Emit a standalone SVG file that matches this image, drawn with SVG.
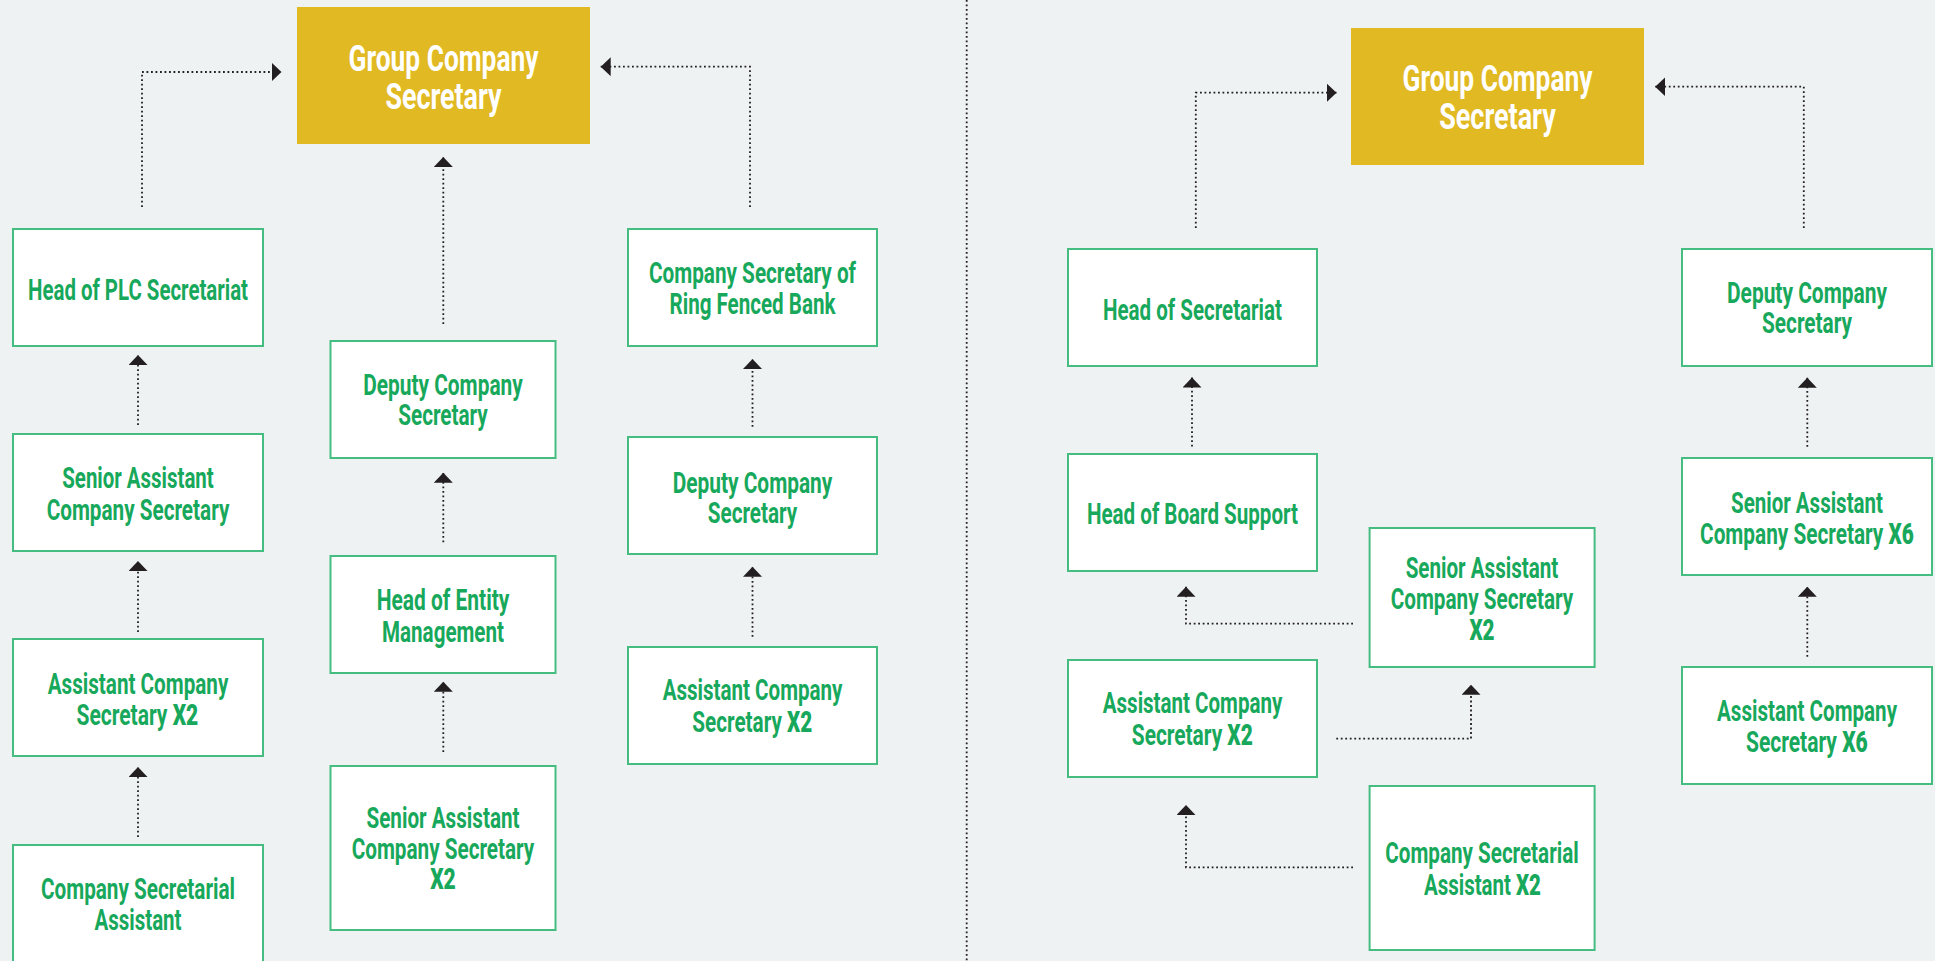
<svg xmlns="http://www.w3.org/2000/svg" width="1935" height="961" viewBox="0 0 1935 961">
<style>
.bg{fill:#eff2f3}
.box{fill:#ffffff;stroke:#45bc80;stroke-width:2}
.gold{fill:#e1b923}
.t{font-family:Roboto,"Liberation Sans",sans-serif;font-size:29px;fill:#17a85b;font-weight:700;text-anchor:middle}
.b{font-weight:900}
.title{font-family:Roboto,"Liberation Sans",sans-serif;font-size:36px;fill:#ffffff;font-weight:700;text-anchor:middle}
.dot{fill:none;stroke:#231f20;stroke-width:1.8;stroke-dasharray:1.8 2.7}
.con{fill:none;stroke:#231f20;stroke-width:1.8;stroke-dasharray:1.8 2.7;marker-end:url(#arr)}
</style>
<defs>
<marker id="arr" markerUnits="userSpaceOnUse" markerWidth="11" markerHeight="20" refX="10" refY="9.5" orient="auto" viewBox="0 0 11 20">
<path d="M0,0 L10,9.5 L0,19 Z" fill="#231f20"/>
</marker>
</defs>
<rect class="bg" x="0" y="0" width="1935" height="961"/>

<g id="connectors">
<path class="dot" d="M966.7,0 V961"/>
<path class="con" d="M142,207 V72 H281.5"/>
<path class="con" d="M443.3,324 V157"/>
<path class="con" d="M750,207 V66.7 H600.7"/>
<path class="con" d="M138,425 V355"/>
<path class="con" d="M138,632 V561"/>
<path class="con" d="M138,837 V767"/>
<path class="con" d="M443.3,542.3 V472.7"/>
<path class="con" d="M443.3,752 V681.7"/>
<path class="con" d="M752.5,426.7 V359"/>
<path class="con" d="M752.5,636.7 V566.7"/>
<path class="con" d="M1195.8,228 V92.7 H1336.5"/>
<path class="con" d="M1803.8,228 V86.7 H1655.2"/>
<path class="con" d="M1192,446.6 V377.5"/>
<path class="con" d="M1353,623.7 H1186 V586.7"/>
<path class="con" d="M1336.3,738.7 H1471 V684.7"/>
<path class="con" d="M1353,867.3 H1186 V805"/>
<path class="con" d="M1807.3,446.7 V377.7"/>
<path class="con" d="M1807.3,656.7 V586.7"/>
</g>

<g id="gold1">
<rect class="gold" x="297" y="7" width="293" height="137"/>
<text class="title" x="443.5" y="71" textLength="190" lengthAdjust="spacingAndGlyphs">Group Company</text>
<text class="title" x="443.5" y="109" textLength="116" lengthAdjust="spacingAndGlyphs">Secretary</text>
</g>

<g id="plc">
<rect class="box" x="13" y="229" width="250" height="117"/>
<text class="t" x="138" y="300" textLength="220" lengthAdjust="spacingAndGlyphs">Head of PLC Secretariat</text>
</g>

<g id="senior1">
<rect class="box" x="13" y="434" width="250" height="117"/>
<text class="t" x="138" y="488.3" textLength="151.5" lengthAdjust="spacingAndGlyphs">Senior Assistant</text>
<text class="t" x="138" y="520" textLength="182.7" lengthAdjust="spacingAndGlyphs">Company Secretary</text>
</g>

<g id="asst1">
<rect class="box" x="13" y="639" width="250" height="117"/>
<text class="t" x="138" y="694" textLength="180.6" lengthAdjust="spacingAndGlyphs">Assistant Company</text>
<text class="t" x="137.4" y="725" textLength="121.7" lengthAdjust="spacingAndGlyphs">Secretary <tspan class="b">X2</tspan></text>
</g>

<g id="csa1">
<rect class="box" x="13" y="845" width="250" height="117"/>
<text class="t" x="138" y="899" textLength="194" lengthAdjust="spacingAndGlyphs">Company Secretarial</text>
<text class="t" x="138" y="930" textLength="87" lengthAdjust="spacingAndGlyphs">Assistant</text>
</g>

<g id="deputy1">
<rect class="box" x="330.5" y="341" width="225" height="117"/>
<text class="t" x="443" y="395" textLength="159.5" lengthAdjust="spacingAndGlyphs">Deputy Company</text>
<text class="t" x="443" y="425" textLength="89.6" lengthAdjust="spacingAndGlyphs">Secretary</text>
</g>

<g id="entity">
<rect class="box" x="330.5" y="556" width="225" height="117"/>
<text class="t" x="443" y="610" textLength="132.7" lengthAdjust="spacingAndGlyphs">Head of Entity</text>
<text class="t" x="443" y="641.7" textLength="122" lengthAdjust="spacingAndGlyphs">Management</text>
</g>

<g id="senior2">
<rect class="box" x="330.5" y="766" width="225" height="164"/>
<text class="t" x="443" y="827.7" textLength="153" lengthAdjust="spacingAndGlyphs">Senior Assistant</text>
<text class="t" x="443" y="859" textLength="182.6" lengthAdjust="spacingAndGlyphs">Company Secretary</text>
<text class="t b" x="443" y="889" textLength="25.6" lengthAdjust="spacingAndGlyphs">X2</text>
</g>

<g id="ringfenced">
<rect class="box" x="628" y="229" width="249" height="117"/>
<text class="t" x="752.5" y="283" textLength="207" lengthAdjust="spacingAndGlyphs">Company Secretary of</text>
<text class="t" x="752.5" y="314" textLength="166" lengthAdjust="spacingAndGlyphs">Ring Fenced Bank</text>
</g>

<g id="deputy2">
<rect class="box" x="628" y="437" width="249" height="117"/>
<text class="t" x="752.5" y="492.7" textLength="159.7" lengthAdjust="spacingAndGlyphs">Deputy Company</text>
<text class="t" x="752.5" y="522.7" textLength="89.4" lengthAdjust="spacingAndGlyphs">Secretary</text>
</g>

<g id="asst2">
<rect class="box" x="628" y="647" width="249" height="117"/>
<text class="t" x="752.5" y="700" textLength="179.7" lengthAdjust="spacingAndGlyphs">Assistant Company</text>
<text class="t" x="752.3" y="731.7" textLength="120" lengthAdjust="spacingAndGlyphs">Secretary <tspan class="b">X2</tspan></text>
</g>

<g id="gold2">
<rect class="gold" x="1351" y="28" width="293" height="137"/>
<text class="title" x="1497.5" y="90.7" textLength="190" lengthAdjust="spacingAndGlyphs">Group Company</text>
<text class="title" x="1497.5" y="129.3" textLength="116.6" lengthAdjust="spacingAndGlyphs">Secretary</text>
</g>

<g id="headsec">
<rect class="box" x="1068" y="249" width="249" height="117"/>
<text class="t" x="1192.5" y="320" textLength="179" lengthAdjust="spacingAndGlyphs">Head of Secretariat</text>
</g>

<g id="board">
<rect class="box" x="1068" y="454" width="249" height="117"/>
<text class="t" x="1192.5" y="524.3" textLength="211" lengthAdjust="spacingAndGlyphs">Head of Board Support</text>
</g>

<g id="senior3">
<rect class="box" x="1369.6" y="528" width="225" height="139"/>
<text class="t" x="1482" y="577.7" textLength="152.7" lengthAdjust="spacingAndGlyphs">Senior Assistant</text>
<text class="t" x="1482" y="609.3" textLength="182.6" lengthAdjust="spacingAndGlyphs">Company Secretary</text>
<text class="t b" x="1482" y="640" textLength="25.2" lengthAdjust="spacingAndGlyphs">X2</text>
</g>

<g id="asst3">
<rect class="box" x="1068" y="660" width="249" height="117"/>
<text class="t" x="1192.5" y="713.3" textLength="179.5" lengthAdjust="spacingAndGlyphs">Assistant Company</text>
<text class="t" x="1192.3" y="745" textLength="121" lengthAdjust="spacingAndGlyphs">Secretary <tspan class="b">X2</tspan></text>
</g>

<g id="csa2">
<rect class="box" x="1369.6" y="786" width="225" height="164"/>
<text class="t" x="1482" y="863.3" textLength="193.3" lengthAdjust="spacingAndGlyphs">Company Secretarial</text>
<text class="t" x="1482.5" y="895" textLength="117" lengthAdjust="spacingAndGlyphs">Assistant <tspan class="b">X2</tspan></text>
</g>

<g id="deputy3">
<rect class="box" x="1682" y="249" width="250" height="117"/>
<text class="t" x="1807" y="303.3" textLength="160" lengthAdjust="spacingAndGlyphs">Deputy Company</text>
<text class="t" x="1807" y="333.3" textLength="90" lengthAdjust="spacingAndGlyphs">Secretary</text>
</g>

<g id="senior4">
<rect class="box" x="1682" y="458" width="250" height="117"/>
<text class="t" x="1807" y="512.7" textLength="152" lengthAdjust="spacingAndGlyphs">Senior Assistant</text>
<text class="t" x="1806.9" y="544" textLength="213.7" lengthAdjust="spacingAndGlyphs">Company Secretary <tspan class="b">X6</tspan></text>
</g>

<g id="asst4">
<rect class="box" x="1682" y="667" width="250" height="117"/>
<text class="t" x="1807" y="721" textLength="180" lengthAdjust="spacingAndGlyphs">Assistant Company</text>
<text class="t" x="1806.9" y="752.3" textLength="121.7" lengthAdjust="spacingAndGlyphs">Secretary <tspan class="b">X6</tspan></text>
</g>
</svg>
